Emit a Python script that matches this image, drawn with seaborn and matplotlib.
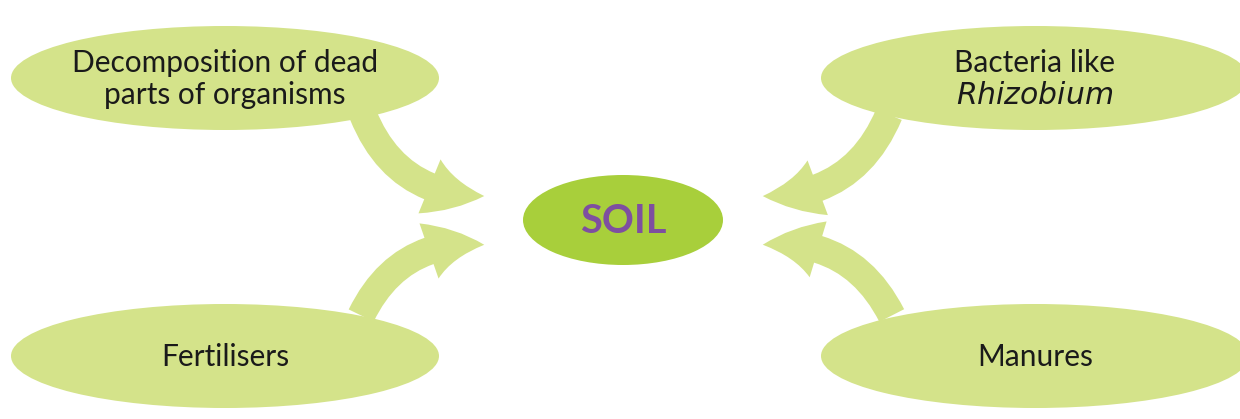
import matplotlib
matplotlib.use("Agg")
import matplotlib.pyplot as plt
import seaborn as sns
from matplotlib.patches import Ellipse, FancyArrowPatch

# sources feeding into the soil
source_labels = ["Decomposition of dead\nparts of organisms", "Fertilisers",
                 "Bacteria like\n$\\it{Rhizobium}$", "Manures"]
centre_label = "SOIL"

# layout in pixel coordinates (x right, y down)
source_centres = [(225, 78), (225, 356), (1035, 78), (1035, 356)]
arrow_tails = [(362, 112), (360, 318), (890, 112), (893, 318)]
arrow_tips = [(487, 196), (487, 245), (760, 196), (760, 245)]
arrow_bend = [0.35, -0.35, -0.35, 0.35]

LIGHT = "#D4E38A"
SOIL_GREEN = "#A8CF3B"
PURPLE = "#7E4FA0"

sns.set_theme(style="white")
plt.rcParams["font.family"] = ["Lato", "DejaVu Sans"]

fig = plt.figure(figsize=(12.4, 4.19), dpi=100)
ax = fig.add_axes([0, 0, 1, 1])
ax.set_xlim(0, 1240)
ax.set_ylim(419, 0)
ax.axis("off")

for (cx, cy), label in zip(source_centres, source_labels):
    ax.add_patch(Ellipse((cx, cy), 428, 104, color=LIGHT, lw=0, zorder=1))
    ax.text(cx, cy + 1, label, ha="center", va="center", fontsize=21.5,
            color="#1a1a1a", linespacing=1.15, zorder=3)

for tail, tip, rad in zip(arrow_tails, arrow_tips, arrow_bend):
    arr = FancyArrowPatch(tail, tip, connectionstyle=f"arc3,rad={rad}",
                          arrowstyle="simple,head_length=1.0,head_width=1.05,tail_width=0.5",
                          mutation_scale=40, color=LIGHT, lw=0, zorder=0.5)
    ax.add_patch(arr)

ax.add_patch(Ellipse((623, 220), 200, 90, color=SOIL_GREEN, lw=0, zorder=2))
ax.text(623, 221, centre_label, ha="center", va="center", fontsize=28.5,
        fontweight="bold", color=PURPLE, zorder=3)

fig.savefig("out.png", dpi=100)
